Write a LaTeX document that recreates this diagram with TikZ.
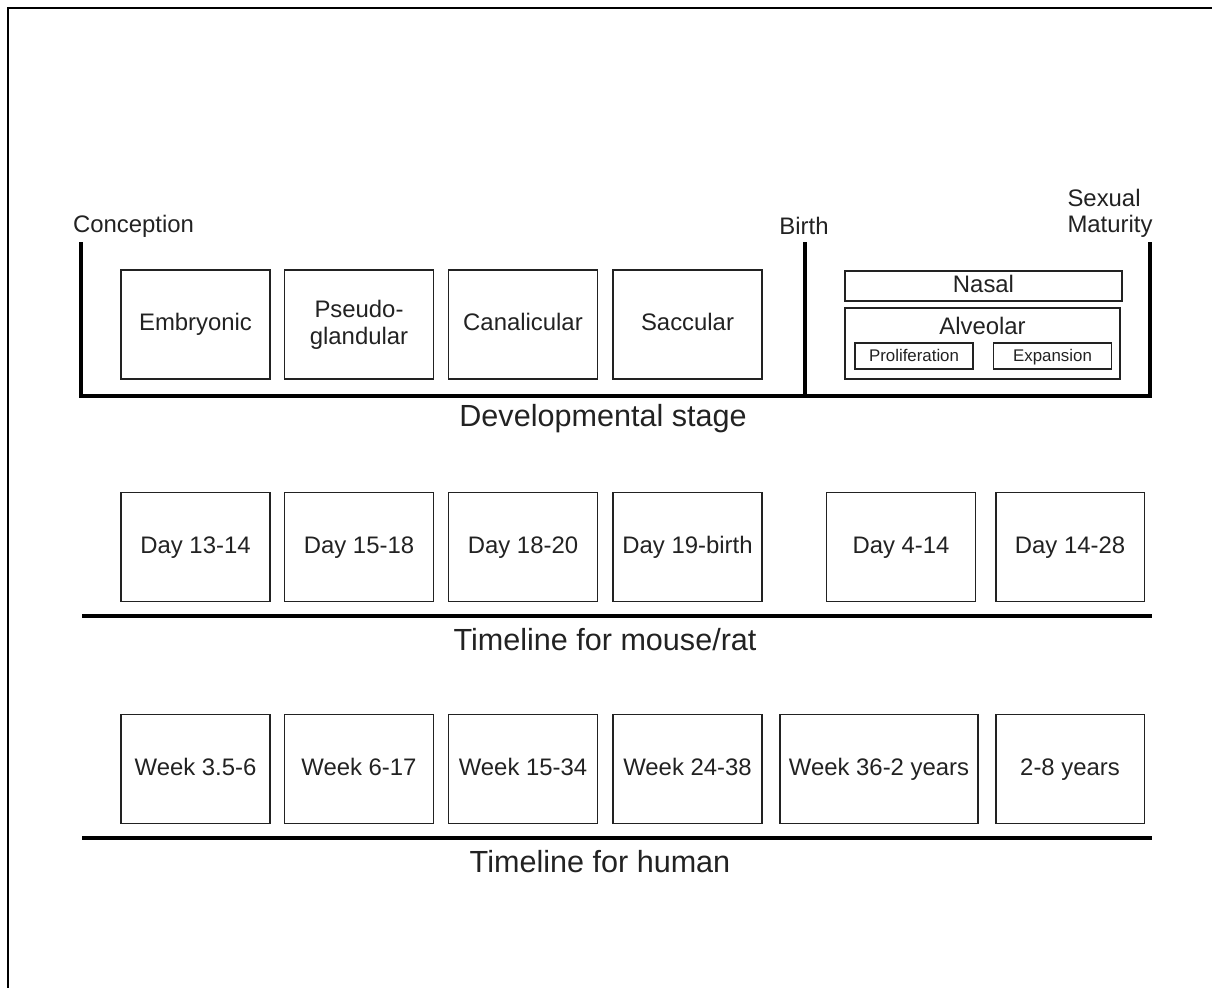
\documentclass[tikz,border=0pt]{standalone}
\usepackage{fontspec}
\setmainfont{Liberation Sans}
\usetikzlibrary{positioning}
\definecolor{ink}{HTML}{222222}
\tikzset{
  stagebox/.style={draw=ink,line width=1.1pt,minimum width=2.98cm,minimum height=2.18cm,inner sep=0pt,align=center,text height=10pt,text depth=3pt,font=\fontsize{13.6}{15.2}\selectfont,text=ink},
  smallbox/.style={draw=ink,line width=1pt,inner sep=0pt,text height=10pt,text depth=3pt,font=\fontsize{13.6}{15}\selectfont,text=ink},
  tinybox/.style={draw=ink,line width=0.9pt,minimum width=2.36cm,minimum height=0.52cm,inner sep=0pt,text height=7pt,text depth=1pt,font=\fontsize{9.6}{11}\selectfont,text=ink},
  marklabel/.style={font=\fontsize{13.6}{15}\selectfont,text=ink,inner sep=0pt},
  rowlabel/.style={font=\fontsize{17.4}{19}\selectfont,text=ink,inner sep=0pt},
  rule/.style={draw=black,line width=1.8pt}
}
\begin{document}
\begin{tikzpicture}[x=0.02cm,y=-0.02cm]
\useasboundingbox (0,0) rectangle (1212,988);
% frame
\draw[line width=1.2pt] (1212,8)--(8,8)--(8,988);
% developmental stage
\node[marklabel] (concep) at (133.5,226){Conception};
\node[marklabel] (birth) at (804,226){Birth};
\node[marklabel,align=left] (mature) at (1110,213){Sexual\\Maturity};
\coordinate (cTop) at (81,242);\coordinate (cBot) at (81,396);
\coordinate (bTop) at (805,242);\coordinate (bBot) at (805,396);
\coordinate (mTop) at (1150,242);\coordinate (mBot) at (1150,396);
\draw[rule] (cTop)--(cBot)--(mBot)--(mTop);
\draw[rule] (bTop)--(bBot);
\node[stagebox] (embryo) at (195.5,324.5){Embryonic};
\node[stagebox,text height=25.2pt] (pseudo) at (359,324.5){Pseudo-\\glandular};
\node[stagebox] (canal) at (523,324.5){Canalicular};
\node[stagebox] (sacc) at (687.5,324.5){Saccular};
\node[smallbox,minimum width=5.54cm,minimum height=0.6cm] (nasal) at (983.5,286){Nasal};
\node[smallbox,minimum width=5.5cm,minimum height=1.42cm] (alveo) at (982.5,343.5){};
\node[marklabel] (alveoT) at (982.5,326){Alveolar};
\node[tinybox] (prolif) at (914,356){Proliferation};
\node[tinybox] (expan) at (1052.5,356){Expansion};
\node[rowlabel] (devlab) at (603,419){Developmental stage};
% mouse / rat
\foreach \x/\t [count=\i] in {195.5/Day 13-14,359/Day 15-18,523/Day 18-20,687.5/Day 19-birth,901/Day 4-14,1070/Day 14-28}
  \node[stagebox] (mouse\i) at (\x,547){\t};
\coordinate (mL) at (82,616);\coordinate (mR) at (1152,616);
\draw[rule] (mL)--(mR);
\node[rowlabel] (mouselab) at (605,640){Timeline for mouse/rat};
% human
\foreach \x/\t [count=\i] in {195.5/Week 3.5-6,359/Week 6-17,523/Week 15-34,687.5/Week 24-38,1070/2-8 years}
  \node[stagebox] (human\i) at (\x,769){\t};
\node[stagebox,minimum width=3.96cm] (humanB) at (879,769){Week 36-2 years};
\coordinate (hL) at (82,838);\coordinate (hR) at (1152,838);
\draw[rule] (hL)--(hR);
\node[rowlabel] (humanlab) at (600,862){Timeline for human};
\end{tikzpicture}
\end{document}
